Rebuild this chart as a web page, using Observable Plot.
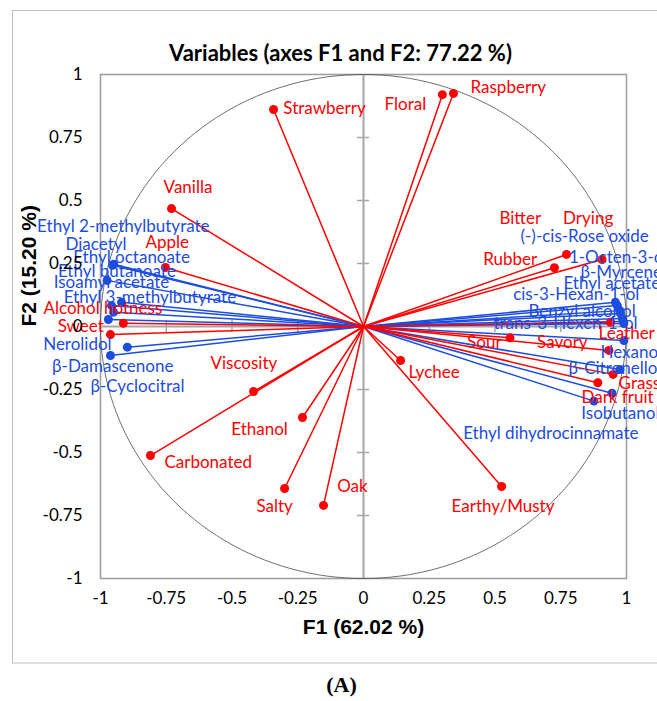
<!DOCTYPE html>
<html><head><meta charset="utf-8">
<script src="https://cdn.jsdelivr.net/npm/d3@7"></script>
<script src="https://cdn.jsdelivr.net/npm/@observablehq/plot@0.6"></script>
<style>html,body{margin:0;padding:0;background:#fff;overflow:hidden}</style>
</head><body><div id="chart"></div>
<script>
// Sensory attributes (red)
const sensoryNames = ["Strawberry","Floral","Raspberry","Vanilla","Apple","Alcohol hotness","Sweet","Viscosity","Ethanol","Carbonated","Salty","Oak","Earthy/Musty","Lychee","Sour","Savory","Leather","Grass","Dark fruit","Rubber","Bitter","Drying"];
const sensoryF1 = [-0.342,0.300,0.342,-0.730,-0.753,-0.913,-0.962,-0.418,-0.232,-0.810,-0.300,-0.152,0.525,0.141,0.557,0.933,0.939,0.949,0.891,0.726,0.772,0.907];
const sensoryF2 = [0.861,0.920,0.925,0.468,0.234,0.013,-0.032,-0.258,-0.361,-0.512,-0.643,-0.710,-0.635,-0.135,-0.045,-0.095,0.017,-0.190,-0.223,0.233,0.286,0.266];
const sensoryLabelF1 = [-0.305,0.080,0.407,-0.760,-0.829,-1.217,-1.163,-0.582,-0.503,-0.757,-0.407,-0.100,0.335,0.171,0.394,0.660,0.894,0.970,0.829,0.455,0.517,0.759];
const sensoryLabelF2 = [0.865,0.881,0.948,0.552,0.333,0.071,0.000,-0.147,-0.409,-0.540,-0.714,-0.635,-0.714,-0.183,-0.062,-0.062,-0.028,-0.226,-0.282,0.266,0.429,0.429];

// Volatile compounds (blue)
const volatileNames = ["Ethyl 2-methylbutyrate","Diacetyl","Ethyl octanoate","Ethyl butanoate","Isoamyl acetate","Ethyl 3-methylbutyrate","Nerolidol","β-Damascenone","β-Cyclocitral","(-)-cis-Rose oxide","1-Octen-3-ol","β-Myrcene","Ethyl acetate","cis-3-Hexan-1-ol","Benzyl alcohol","trans-3-Hexen-1-ol","Hexanol","β-Citronellol","Isobutanol","Ethyl dihydrocinnamate"];
const volatileF1 = [-0.954,-0.950,-0.958,-0.975,-0.950,-0.920,-0.898,-0.970,-0.962,0.958,0.965,0.975,0.977,0.984,0.990,0.988,0.990,0.975,0.945,0.876];
const volatileF2 = [0.243,0.247,0.083,0.183,0.057,0.096,-0.082,0.028,-0.115,0.096,0.083,0.063,0.052,0.032,0.012,0.020,-0.056,-0.171,-0.265,-0.296];
const volatileLabelF1 = [-1.241,-1.133,-1.104,-1.162,-1.178,-1.140,-1.218,-1.184,-1.038,0.597,0.781,0.825,0.760,0.569,0.627,0.494,0.901,0.779,0.828,0.379];
const volatileLabelF2 = [0.397,0.324,0.273,0.219,0.176,0.116,-0.073,-0.158,-0.238,0.357,0.275,0.215,0.172,0.126,0.060,0.011,-0.102,-0.168,-0.346,-0.426];

const tickValues = [-1,-0.75,-0.5,-0.25,0,0.25,0.5,0.75,1];
const innerTicks = [-0.75,-0.5,-0.25,0.25,0.5,0.75];
const titleText = "Variables (axes F1 and F2: 77.22 %)";
const xTitle = "F1 (62.02 %)";
const yTitle = "F2 (15.20 %)";
const panelTag = "(A)";

const RED = "#ff0000", BLUE = "#1c4de0";
const sensory = sensoryNames.map((n,i)=>({name:n,f1:sensoryF1[i],f2:sensoryF2[i],lx:sensoryLabelF1[i],ly:sensoryLabelF2[i]}));
const volatiles = volatileNames.map((n,i)=>({name:n,f1:volatileF1[i],f2:volatileF2[i],lx:volatileLabelF1[i],ly:volatileLabelF2[i]}));
const circle = d3.range(0,361,2).map(a=>({x:Math.cos(a*Math.PI/180),y:Math.sin(a*Math.PI/180)}));

const labelFont = "Lato, 'Noto Sans', sans-serif";
const plot = Plot.plot({
  width:657, height:701,
  marginLeft:100, marginRight:31, marginTop:74, marginBottom:123,
  x:{domain:[-1,1], axis:null},
  y:{domain:[-1,1], axis:null},
  style:{fontFamily:labelFont, fontSize:"17px", background:"#fff", overflow:"hidden"},
  marks:[
    Plot.frame({stroke:"#a0a0a0", strokeWidth:1.6}),
    Plot.ruleX([0],{stroke:"#a6a6a6", strokeWidth:2}),
    Plot.ruleY([0],{stroke:"#a6a6a6", strokeWidth:2}),
    Plot.ruleY(innerTicks,{y:d=>d, x1:-0.023, x2:0.023, stroke:"#a6a6a6", strokeWidth:1.5}),
    Plot.ruleX(innerTicks,{x:d=>d, y1:-0.024, y2:0.024, stroke:"#a6a6a6", strokeWidth:1.5}),
    Plot.line(circle,{x:"x",y:"y",stroke:"#4d4d4d",strokeWidth:0.8}),
    Plot.link(volatiles,{x1:0,y1:0,x2:"f1",y2:"f2",stroke:BLUE,strokeWidth:1.5}),
    Plot.link(sensory,{x1:0,y1:0,x2:"f1",y2:"f2",stroke:RED,strokeWidth:1.5}),
    Plot.dot(volatiles,{x:"f1",y:"f2",r:4.5,fill:BLUE}),
    Plot.dot(sensory,{x:"f1",y:"f2",r:4.5,fill:RED}),
    Plot.text(volatiles,{x:"lx",y:"ly",text:"name",textAnchor:"start",fill:BLUE,fontSize:17}),
    Plot.text(sensory,{x:"lx",y:"ly",text:"name",textAnchor:"start",fill:RED,fontSize:17}),
    Plot.text(tickValues,{x:d=>d,frameAnchor:"bottom",dy:25,text:d=>String(d),fill:"#000",fontSize:17}),
    Plot.text(tickValues,{y:d=>d,frameAnchor:"left",dx:-18,textAnchor:"end",text:d=>String(d),fill:"#000",fontSize:17}),
    Plot.text([titleText],{frameAnchor:"top",dx:-23,dy:-29,text:d=>d,fontWeight:"bold",fontSize:22,fill:"#000"}),
    Plot.text([xTitle],{frameAnchor:"bottom",dy:55,text:d=>d,fontWeight:"bold",fontSize:21,fontFamily:"'Liberation Sans', Arial, sans-serif",fill:"#000"}),
    Plot.text([yTitle],{frameAnchor:"left",dx:-71,rotate:-90,text:d=>d,fontWeight:"bold",fontSize:21,fontFamily:"'Liberation Sans', Arial, sans-serif",fill:"#000"}),
    Plot.text([panelTag],{frameAnchor:"bottom",dx:-22,dy:113,text:d=>d,fontWeight:"bold",fontSize:22,fontFamily:"'Liberation Serif', 'Times New Roman', serif",fill:"#000"})
  ]
});
d3.select(plot).insert("rect",":first-child")
  .attr("x",12.5).attr("y",10.5).attr("width",720).attr("height",652.5)
  .attr("fill","none").attr("stroke","#bfbfbf").attr("stroke-width",1);
document.getElementById("chart").appendChild(plot);
</script>
</body></html>
